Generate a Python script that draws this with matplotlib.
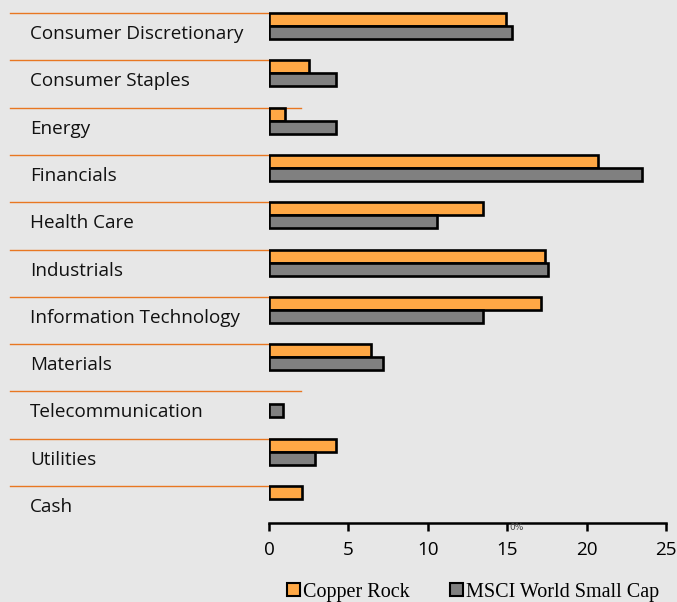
import matplotlib
matplotlib.use("Agg")
import matplotlib.pyplot as plt
from matplotlib.patches import Patch

categories = ["Consumer Discretionary", "Consumer Staples", "Energy", "Financials",
              "Health Care", "Industrials", "Information Technology", "Materials",
              "Telecommunication", "Utilities", "Cash"]
copper_rock = [14.9, 2.5, 1.0, 20.7, 13.5, 17.4, 17.1, 6.4, 0.0, 4.2, 2.1]
msci_small = [15.3, 4.2, 4.2, 23.5, 10.6, 17.6, 13.5, 7.2, 0.9, 2.9, 0.0]
sep_extent = [0, 0, 2, 0, 0, 0, 0, 0, 2, 2, 0]
xticks = [0, 5, 10, 15, 20, 25]
series_names = ["Copper Rock", "MSCI World Small Cap"]

W, H = 677, 602
bg = "#e7e7e7"
orange = "#ffa845"
grey = "#808080"
sepc = "#e87722"

fig = plt.figure(figsize=(W / 100, H / 100), dpi=100, facecolor=bg)
ax = fig.add_axes([269 / W, 1 - 523 / H, (666 - 269) / W, 523 / H])
ax.set_facecolor(bg)
ax.patch.set_alpha(0)

step = 47.3
top0 = 26.0
ylo = (523 - top0) / step
yhi = -top0 / step
ax.set_ylim(ylo, yhi)
ax.set_xlim(0, 25)

bh = 13 / step
idx = list(range(len(categories)))
for i in idx:
    if copper_rock[i] > 0:
        ax.barh(i - bh / 2, copper_rock[i], height=bh, color=orange,
                edgecolor="black", linewidth=1.9, zorder=3)
    if msci_small[i] > 0:
        ax.barh(i + bh / 2, msci_small[i], height=bh, color=grey,
                edgecolor="black", linewidth=1.9, zorder=3)

xpx = (666 - 269) / 25.0
left_data = (10 - 269) / xpx
for i in idx:
    ax.plot([left_data, sep_extent[i]], [i - bh, i - bh], color=sepc,
            linewidth=1.0, clip_on=False, zorder=1)
    ax.text(left_data + 20 / xpx, i + 0.17, categories[i], ha="left", va="center",
            fontsize=13.6, family="Open Sans", color="#111111", clip_on=False)

for s in ["top", "right", "left"]:
    ax.spines[s].set_visible(False)
ax.spines["bottom"].set_linewidth(1.8)
ax.set_yticks([])
ax.set_xticks(xticks)
ax.set_xticklabels([str(t) for t in xticks], fontsize=13.6, family="Open Sans")
ax.tick_params(axis="x", length=6, width=1.8, direction="out", pad=7)

fig.text(517 / W, 1 - 528 / H, "0%", fontsize=6.5, color="#444444",
         ha="center", va="center")

handles = [Patch(facecolor=orange, edgecolor="black", linewidth=1.5),
           Patch(facecolor=grey, edgecolor="black", linewidth=1.5)]
fig.legend(handles, series_names, loc="center", bbox_to_anchor=(473 / W, 1 - 592 / H),
           ncol=2, frameon=False, prop={"family": "Liberation Serif", "size": 14.5},
           handlelength=0.65, handleheight=0.65, handletextpad=0.15, columnspacing=2.0,
           borderpad=0, borderaxespad=0)

fig.savefig("out.png", dpi=100, facecolor=bg)
